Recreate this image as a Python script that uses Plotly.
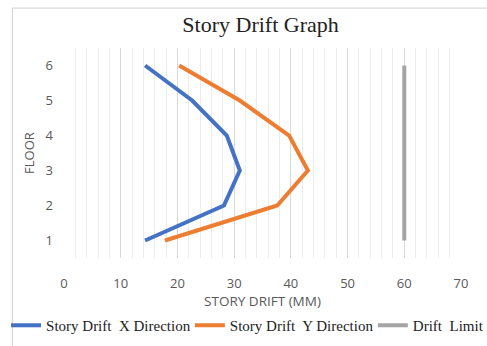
import plotly.graph_objects as go

floors = [1, 2, 3, 4, 5, 6]
drift_x = [14.3, 28.2, 31.0, 28.7, 22.6, 14.3]
drift_y = [17.8, 37.6, 43.0, 39.7, 31.0, 20.3]
limit_x = [60, 60, 60, 60, 60, 60]
x_ticks = [0, 10, 20, 30, 40, 50, 60, 70]

fig = go.Figure()
fig.add_trace(go.Scatter(x=drift_x, y=floors, mode="lines", name="Story Drift  X Direction",
                         line=dict(color="#4472C4", width=4), legend="legend"))
fig.add_trace(go.Scatter(x=drift_y, y=floors, mode="lines", name="Story Drift  Y Direction",
                         line=dict(color="#ED7D31", width=4), legend="legend2"))
fig.add_trace(go.Scatter(x=limit_x, y=floors, mode="lines", name="Drift  Limit",
                         line=dict(color="#A5A5A5", width=4), legend="legend3"))

leg_font = dict(family="Liberation Serif", size=15, color="#222222")
leg_common = dict(orientation="h", xanchor="left", y=-0.243, yanchor="top", font=leg_font,
                  bgcolor="rgba(0,0,0,0)", itemwidth=30)

fig.update_layout(
    width=487, height=346,
    margin=dict(l=64, r=26, t=48, b=88, autoexpand=False),
    paper_bgcolor="white", plot_bgcolor="white",
    title=dict(text="Story Drift Graph", x=0.535, xanchor="center", y=0.93, yanchor="middle",
               font=dict(family="Liberation Serif", size=22, color="#222222")),
    showlegend=True,
    legend=dict(x=-0.146, **leg_common),
    legend2=dict(x=0.317, **leg_common),
    legend3=dict(x=0.778, **leg_common),
    xaxis=dict(range=[0, 70], tickvals=x_ticks, showgrid=True, gridcolor="#d9d9d9", gridwidth=1,
               minor=dict(dtick=2, showgrid=True, gridcolor="#ececec", gridwidth=1),
               zeroline=False, showline=False, ticks="",
               ticklabelstandoff=16,
               tickfont=dict(family="Open Sans", size=13, color="#595959"),
               title=dict(text="STORY DRIFT (MM)", standoff=3,
                          font=dict(family="Open Sans", size=13.5, color="#595959"))),
    yaxis=dict(range=[0.5, 6.5], tickvals=floors, showgrid=False, zeroline=False, showline=False,
               ticks="", ticklabelstandoff=10,
               tickfont=dict(family="Open Sans", size=13, color="#595959"),
               title=dict(text="FLOOR", standoff=8,
                          font=dict(family="Open Sans", size=13, color="#595959"))),
)
fig.add_shape(type="rect", xref="paper", yref="paper", x0=-0.13, x1=1.08, y0=-0.5, y1=1.19,
              line=dict(color="#d0d0d0", width=1), fillcolor="rgba(0,0,0,0)", layer="below")

fig.write_html("out.html", config={"displayModeBar": False},
               post_script="document.body.style.margin='0';")
